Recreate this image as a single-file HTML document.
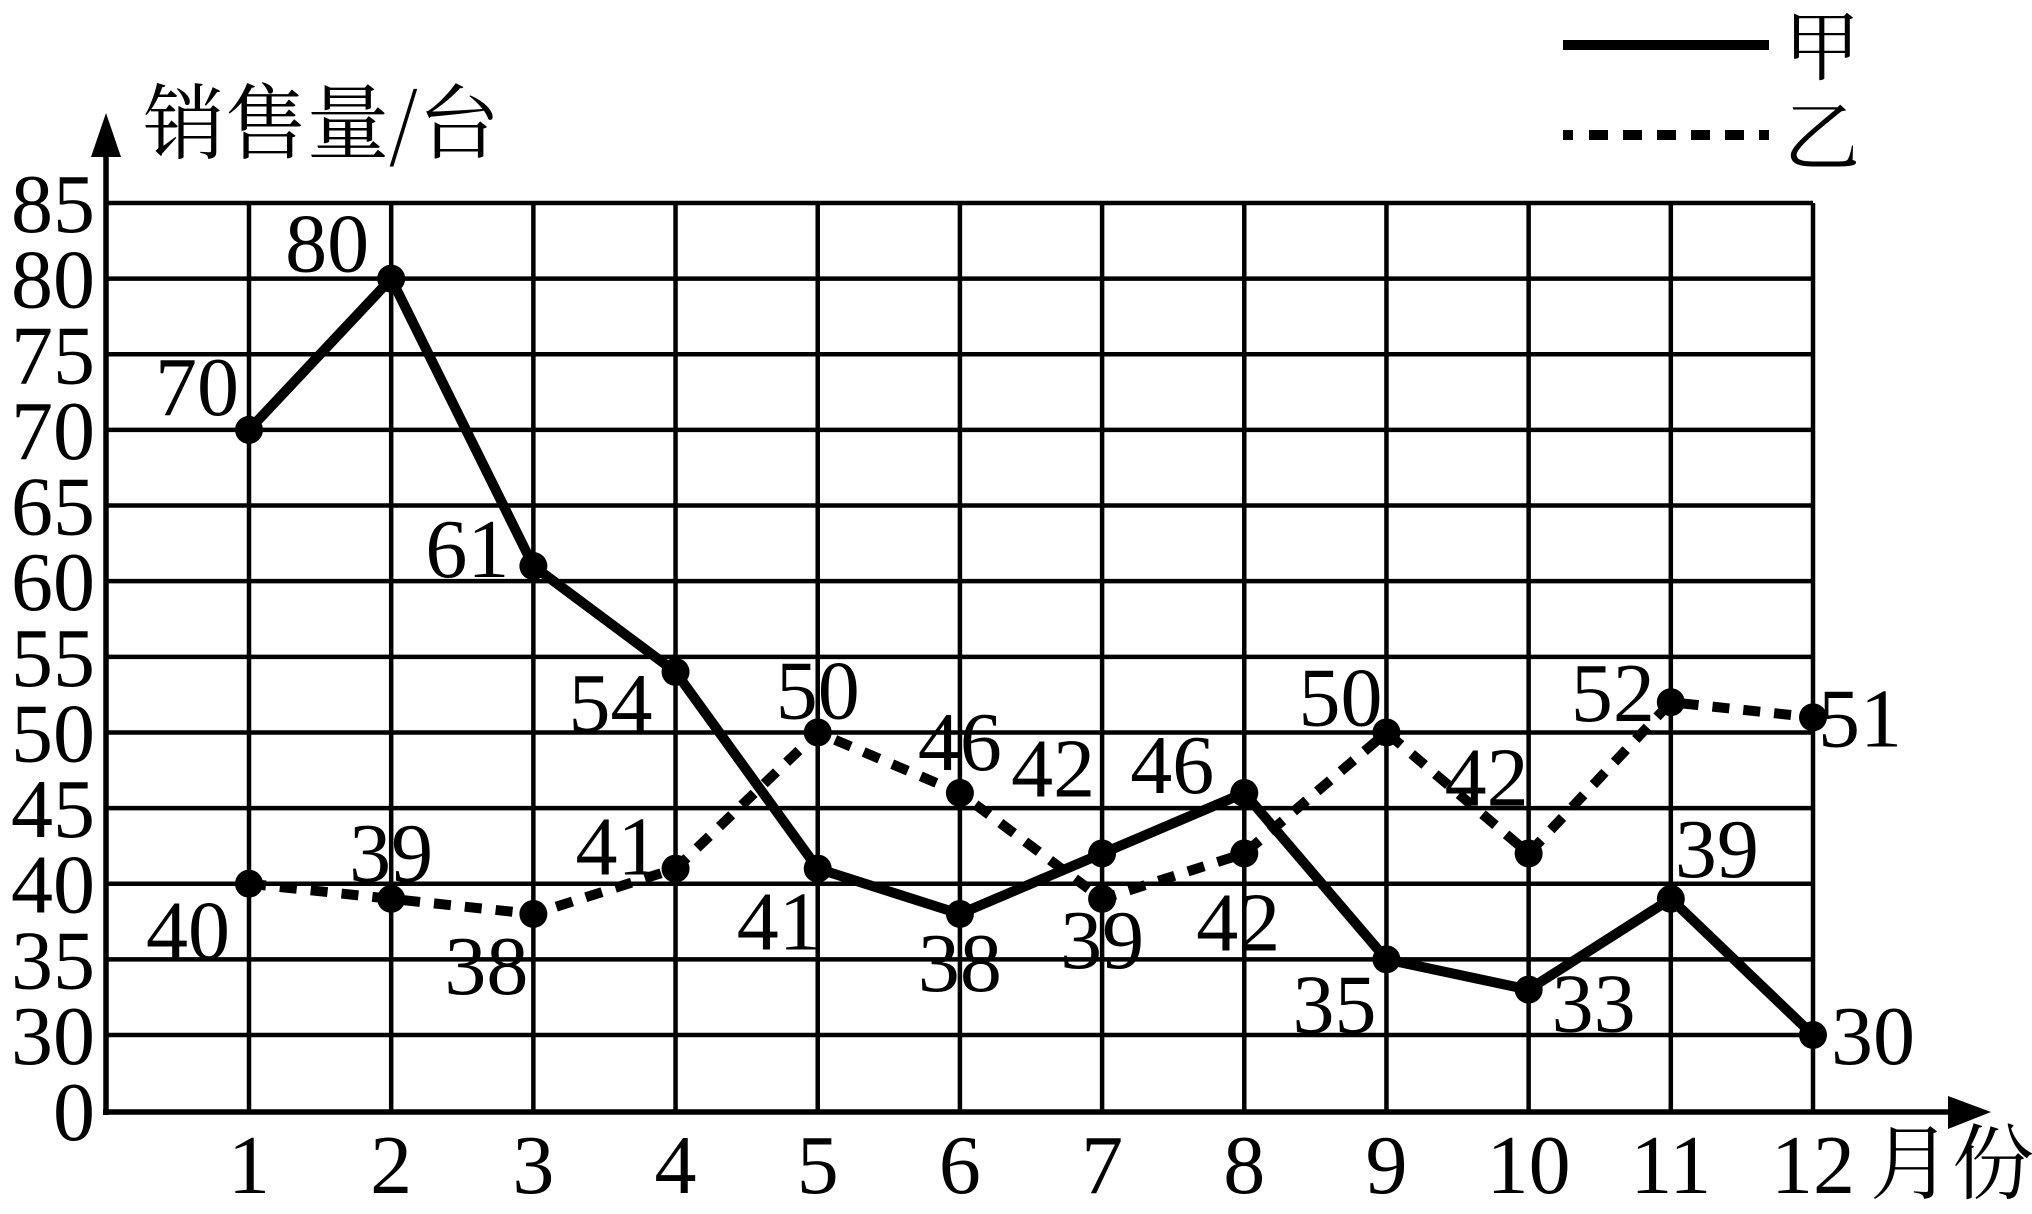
<!DOCTYPE html>
<html><head><meta charset="utf-8"><style>
html,body{margin:0;padding:0;background:#fff;}
svg{display:block;}
text{font-family:"Liberation Serif","Noto Serif CJK SC",serif;fill:#000;}
</style></head><body>
<svg id="chart" width="2032" height="1214" viewBox="0 0 2032 1214" xmlns="http://www.w3.org/2000/svg">
<g id="grid"></g>
<g id="axes"></g>
<g id="series"></g>
<g id="labels"></g>
<text x="143" y="152" font-size="82" style="font-family:'Noto Serif CJK SC',serif">销售量/台</text>
<text x="1870" y="1192" font-size="82" style="font-family:'Noto Serif CJK SC',serif">月份</text>
<g>
<line x1="1563" y1="45" x2="1769" y2="45" stroke="#000" stroke-width="10"/>
<text x="1784" y="74" font-size="76" style="font-family:'Noto Serif CJK SC',serif">甲</text>
<line x1="1563" y1="135" x2="1769" y2="135" stroke="#000" stroke-width="10" stroke-dasharray="10,16,19,15,19,15,19,15,19,15,19,15,10"/>
<text x="1784" y="164" font-size="76" style="font-family:'Noto Serif CJK SC',serif">乙</text>
</g>
</svg>
<script>
const months = [1,2,3,4,5,6,7,8,9,10,11,12];
const jia = [70,80,61,54,41,38,42,46,35,33,39,30];
const yi = [40,39,38,41,50,46,39,42,50,42,52,51];
const yTicks = [30,35,40,45,50,55,60,65,70,75,80,85];
const jiaOff = [[-52,-44],[-64,-36],[-66,-18],[-65,30],[-39,52],[0,48],[-49,-86],[-72,-29],[-52,44],[65,13],[46,-51],[60,0]];
const yiOff = [[-61,46],[0,-47],[-47,51],[-58,-23],[0,-43],[0,-52],[0,40],[-6,68],[-46,-36],[-42,-77],[-58,-10],[47,0]];
const NS='http://www.w3.org/2000/svg';
const X0=106, Y0=1112, XL=249, XR=1813, Y30=1035, Y85=203;
const FS=84;
function xs(m){return XL+(m-1)*(XR-XL)/11;}
function ys(v){return Y30-(v-30)*(Y30-Y85)/55;}
function mk(tag,attrs,parent){const e=document.createElementNS(NS,tag);for(const k in attrs)e.setAttribute(k,attrs[k]);parent.appendChild(e);return e;}
const grid=document.getElementById('grid'),axes=document.getElementById('axes'),ser=document.getElementById('series'),lab=document.getElementById('labels');
yTicks.forEach(v=>{
  const l=mk('line',{x1:X0,y1:ys(v),x2:XR,y2:ys(v),stroke:'#000','stroke-width':4.5},grid);
  
  
  const t=mk('text',{x:95,y:ys(v)+29,'text-anchor':'end','font-size':FS},axes);
  t.textContent=v;
  
  
});
months.forEach(m=>{
  const l=mk('line',{x1:xs(m),y1:Y85,x2:xs(m),y2:Y0,stroke:'#000','stroke-width':4.5},grid);
  
  
  const t=mk('text',{x:xs(m),y:1193,'text-anchor':'middle','font-size':FS},axes);
  t.textContent=m;
  
  
});
const zt=mk('text',{x:95,y:1140,'text-anchor':'end','font-size':FS},axes);
zt.textContent='0';


const ya=mk('line',{x1:X0,y1:Y0+3,x2:X0,y2:135,stroke:'#000','stroke-width':5.5},axes);


const yarr=mk('polygon',{points:`${X0},113 ${X0-15},157 ${X0+15},157`,fill:'#000'},axes);


const xa=mk('line',{x1:X0-3,y1:Y0,x2:1965,y2:Y0,stroke:'#000','stroke-width':5.5},axes);


const xarr=mk('polygon',{points:`1991,${Y0} 1948,${Y0-16} 1948,${Y0+17}`,fill:'#000'},axes);


function drawSeries(vals,name,dash,offs){
  const pts=vals.map((v,i)=>xs(months[i])+','+ys(v)).join(' ');
  const attrs={points:pts,fill:'none',stroke:'#000','stroke-width':10,'stroke-linejoin':'miter'};
  if(dash)attrs['stroke-dasharray']='17,14';
  const pl=mk('polyline',attrs,ser);
  
  
  vals.forEach((v,i)=>{
    const c=mk('circle',{cx:xs(months[i]),cy:ys(v),r:14,fill:'#000'},ser);
    
    
    const t=mk('text',{x:xs(months[i])+offs[i][0],y:ys(v)+offs[i][1]+29,'text-anchor':'middle','font-size':FS},lab);
    t.textContent=v;
    
    
  });
}
drawSeries(yi,'yi',true,yiOff);
drawSeries(jia,'jia',false,jiaOff);
</script>
</body></html>
